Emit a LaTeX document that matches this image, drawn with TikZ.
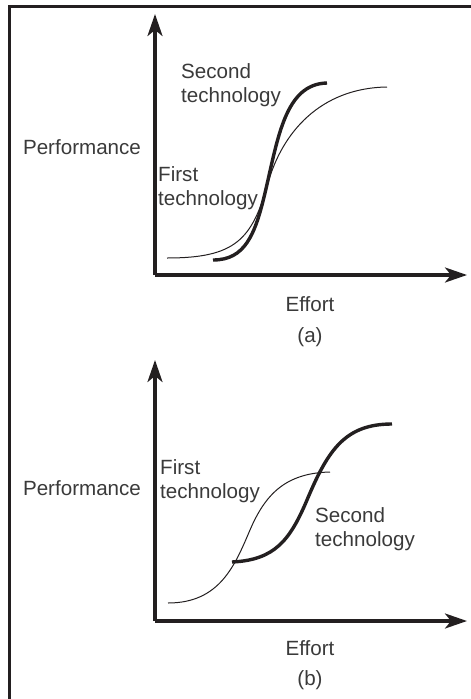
\documentclass[tikz,border=0pt]{standalone}
\usepackage{fontspec}
\setmainfont{Liberation Sans}
\usetikzlibrary{arrows.meta}
\definecolor{ink}{HTML}{231F20}
\definecolor{txt}{HTML}{3A3A3A}
\tikzset{
  frameline/.style={ink, line width=3pt},
  axis/.style={ink, line width=3.2pt, -{Stealth[length=22pt,width=15pt,inset=6pt]}},
  thincurve/.style={ink, line width=1pt},
  thickcurve/.style={ink, line width=3.4pt},
  lbl/.style={txt, inner sep=0pt, font=\fontsize{20.6}{24}\selectfont},
  lbll/.style={lbl, align=left, anchor=west},
}
\begin{document}
\begin{tikzpicture}[x=1pt,y=-1pt]
\useasboundingbox (0,0) rectangle (471,699);
% frame
\draw[frameline] (9.5,700) -- (9.5,6) -- (472,6);

% ---------- (a) ----------
\coordinate (oa) at (155,275);
\coordinate (ya) at (155,14);
\coordinate (xa) at (467,275);
\draw[axis] (oa) -- (ya);
\draw[axis] (oa) -- (xa);
\draw[thincurve] (167,258) .. controls (235,258) and (252,240) .. (268,183)
  .. controls (282,133) and (320,88) .. (387,87);
\draw[thickcurve] (213,260) .. controls (245,260) and (255,235) .. (265,193)
  .. controls (278,138) and (285,84) .. (327,83);
\node[lbl] (perfa) at (82,147) {Performance};
\node[lbll] (seca) at (181,85) {Second\\technology};
\node[lbll] (firsta) at (158,188) {First\\technology};
\node[lbl] (effa) at (310,304) {Effort};
\node[lbl] (capa) at (310,337) {(a)};

% ---------- (b) ----------
\coordinate (ob) at (155,621);
\coordinate (yb) at (155,360);
\coordinate (xb) at (467,621);
\draw[axis] (ob) -- (yb);
\draw[axis] (ob) -- (xb);
\draw[thincurve] (168,603) .. controls (220,603) and (235,565) .. (250,530)
  .. controls (265,495) and (285,473) .. (330,472);
\draw[thickcurve] (232,562) .. controls (275,560) and (290,540) .. (307,500)
  .. controls (328,450) and (345,424) .. (392,424);
\node[lbl] (perfb) at (82,488) {Performance};
\node[lbll] (firstb) at (160,481) {First\\technology};
\node[lbll] (secb) at (315,529) {Second\\technology};
\node[lbl] (effb) at (310,648) {Effort};
\node[lbl] (capb) at (310,680) {(b)};
\end{tikzpicture}
\end{document}
